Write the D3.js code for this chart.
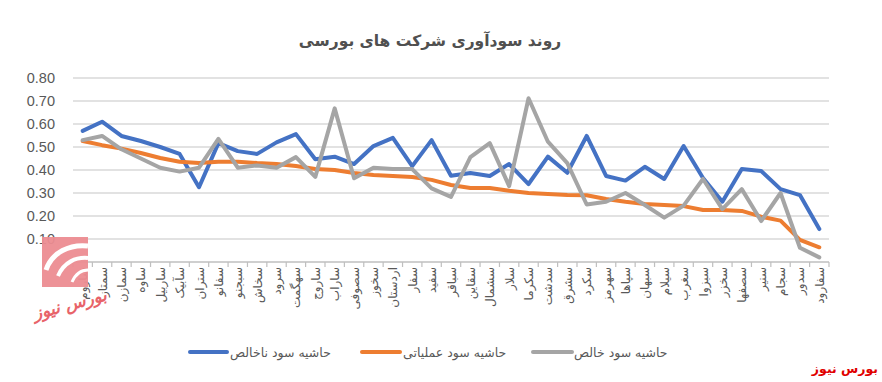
<!DOCTYPE html>
<html><head><meta charset="utf-8">
<script src="https://cdn.jsdelivr.net/npm/d3@7/dist/d3.min.js"></script>
<style>body{margin:0;background:#fff}svg{display:block}</style>
</head><body>
<svg id="c" width="882" height="382"></svg>
<script>
const categories = ["ساروم","سمتاز","سمازن","ساوه","ساربیل","سآبیک","ستران","سفانو","سبجنو","سخاش","سرود","سهگمت","ساروج","ساراب","سصوفی","سخوز","اردستان","سفار","سفید","سباقر","سقاین","سشمال","سلار","سکرما","سدشت","سشرق","سکرد","سهرمز","سپاها","سبهان","سیلام","سغرب","سبزوا","سخزر","سصفها","سنیر","سجام","سدور","سفارود"];
const grossMargin = [0.57,0.61,0.548,0.526,0.50,0.47,0.325,0.517,0.482,0.47,0.52,0.556,0.447,0.458,0.426,0.504,0.54,0.417,0.53,0.375,0.387,0.374,0.426,0.339,0.458,0.388,0.548,0.374,0.354,0.414,0.361,0.504,0.365,0.262,0.404,0.396,0.317,0.291,0.143];
const operatingMargin = [0.526,0.508,0.493,0.474,0.452,0.436,0.43,0.436,0.436,0.43,0.426,0.417,0.404,0.40,0.387,0.378,0.374,0.37,0.357,0.335,0.322,0.322,0.31,0.30,0.296,0.291,0.29,0.274,0.262,0.252,0.248,0.243,0.226,0.226,0.222,0.197,0.18,0.096,0.064];
const netMargin = [0.53,0.548,0.49,0.45,0.41,0.393,0.41,0.535,0.41,0.42,0.41,0.456,0.37,0.668,0.364,0.41,0.404,0.404,0.32,0.283,0.456,0.517,0.33,0.712,0.523,0.43,0.25,0.262,0.30,0.248,0.193,0.245,0.361,0.23,0.317,0.178,0.30,0.062,0.02];
const yTicks = [0.1,0.2,0.3,0.4,0.5,0.6,0.7,0.8];
const seriesNames = ["حاشیه سود ناخالص","حاشیه سود عملیاتی","حاشیه سود خالص"];
const colors = ["#4472C4","#ED7D31","#A5A5A5"];
const title = "روند سودآوری شرکت های بورسی";

(function(){
const svg = d3.select("#c");
const pl = 73, pr = 829, pt = 78, pb = 262;
const x = d3.scaleBand().domain(categories).range([pl, pr]);
const y = d3.scaleLinear().domain([0, 0.8]).range([pb, pt]);
const txt = "#595959";

svg.append("text").attr("x", 430).attr("y", 46).attr("text-anchor","middle")
  .attr("font-family","DejaVu Sans, sans-serif").attr("font-weight","bold")
  .attr("font-size",15.5).attr("fill","#505050").text(title);

svg.append("g").selectAll("line").data(yTicks).join("line")
  .attr("x1", pl).attr("x2", pr).attr("y1", d=>y(d)).attr("y2", d=>y(d))
  .attr("stroke","#d9d9d9").attr("stroke-width",1.3);

const yAxis = d3.axisLeft(y).tickValues(yTicks).tickFormat(d3.format(".2f")).tickSize(0).tickPadding(0);
const ya = svg.append("g").attr("transform",`translate(55,0)`).call(yAxis);
ya.select(".domain").remove();
ya.selectAll("text").attr("font-family","Liberation Sans, Arial, sans-serif").attr("font-size",14.5).attr("fill",txt);

svg.append("line").attr("x1",pl).attr("x2",pr).attr("y1",y(0)).attr("y2",y(0)).attr("stroke","#bfbfbf").attr("stroke-width",1.3);
svg.append("g").selectAll("line").data(categories.map(c=>x(c)).concat([pr])).join("line")
  .attr("x1",d=>d).attr("x2",d=>d).attr("y1",y(0)).attr("y2",y(0)+5).attr("stroke","#bfbfbf").attr("stroke-width",1.2);

svg.append("g").selectAll("text").data(categories).join("text")
  .attr("transform", d=>`translate(${x(d)+x.bandwidth()/2+4.5},${y(0)+5}) rotate(-90)`)
  .attr("text-anchor","end").attr("font-family","DejaVu Sans, sans-serif").attr("font-size",12)
  .attr("fill",txt).text(d=>d);

const line = d3.line().x((d,i)=>x(categories[i])+x.bandwidth()/2).y(d=>y(d));
[grossMargin, operatingMargin, netMargin].forEach((s,k)=>{
  svg.append("path").datum(s).attr("d",line).attr("fill","none")
    .attr("stroke",colors[k]).attr("stroke-width",4).attr("stroke-linejoin","round").attr("stroke-linecap","round");
});

const legendItems = [{x1:190,x2:227,tx:230},{x1:362,x2:400,tx:403},{x1:533,x2:572,tx:574}];
legendItems.forEach((it,k)=>{
  svg.append("line").attr("x1",it.x1).attr("x2",it.x2).attr("y1",352).attr("y2",352)
    .attr("stroke",colors[k]).attr("stroke-width",4).attr("stroke-linecap","round");
  svg.append("text").attr("x",it.tx).attr("y",356.5).attr("text-anchor","start")
    .attr("font-family","DejaVu Sans, sans-serif").attr("font-size",12.5).attr("fill",txt).text(seriesNames[k]);
});

const lg = svg.append("g");
lg.append("rect").attr("x",42).attr("y",237).attr("width",46).attr("height",50).attr("fill","#ec8c91").attr("opacity",0.95);
lg.append("path").attr("d","M88,246 C70,244 52,252 46,270").attr("fill","none").attr("stroke","#fff").attr("stroke-width",5);
lg.append("path").attr("d","M88,258 C76,257 64,262 58,276").attr("fill","none").attr("stroke","#fff").attr("stroke-width",4);
lg.append("path").attr("d","M88,270 C82,270 76,273 72,282").attr("fill","none").attr("stroke","#fff").attr("stroke-width",3);
lg.append("text").attr("x",70).attr("y",310).attr("text-anchor","middle").attr("transform","rotate(-15,70,305)")
  .attr("font-family","DejaVu Sans, sans-serif").attr("font-weight","bold").attr("font-style","italic")
  .attr("font-size",17).attr("fill","#e5484f").attr("opacity",0.85).text("بورس نیوز");

svg.append("text").attr("x",878).attr("y",373).attr("text-anchor","end")
  .attr("font-family","DejaVu Sans, sans-serif").attr("font-weight","bold")
  .attr("font-size",12.5).attr("fill","#e00000").text("بورس نیوز");
})();
</script>
</body></html>
